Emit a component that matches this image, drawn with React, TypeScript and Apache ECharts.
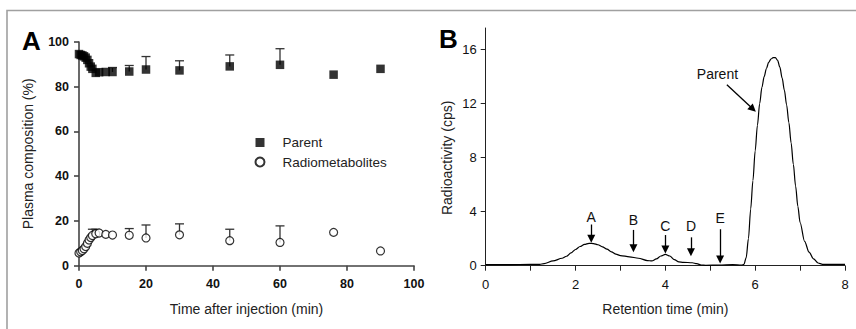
import React, { useEffect, useRef } from "react";
import * as echarts from "echarts";

// Panel A: plasma composition over time
const timesA = [0, 0.5, 1, 1.5, 2, 2.5, 3, 3.5, 4, 5, 6, 8, 10, 15, 20, 30, 45, 60, 76, 90];
const parentPct = [94.6, 94.2, 94, 93.6, 93, 92, 90.5, 89, 88, 86.2, 86.5, 86.6, 86.6, 86.8, 87.7, 87.3, 89.1, 89.8, 85.4, 88];
const metabPct = [5.7, 6.2, 6.8, 7.6, 8.6, 10, 11.5, 12.6, 13.5, 14.3, 14.6, 14, 13.7, 13.6, 12.4, 13.8, 11.2, 10.4, 14.9, 6.6];
// upper error bar ends: [time, mean, upper]
const parentErr = [
  [10, 86.6, 88.6],
  [15, 86.8, 89.5],
  [20, 87.7, 93.5],
  [30, 87.3, 91.6],
  [45, 89.1, 94.2],
  [60, 89.8, 97],
];
const metabErr = [
  [4, 13.5, 16.3],
  [5, 14.3, 16.3],
  [15, 13.6, 16.6],
  [20, 12.4, 18.2],
  [30, 13.8, 18.7],
  [45, 11.2, 16.3],
  [60, 10.4, 17.8],
];
const xTicksA = [0, 20, 40, 60, 80, 100];
const yTicksA = [0, 20, 40, 60, 80, 100];

// Panel B: radio-HPLC chromatogram
const retTime = [0, 0.5, 1.0, 1.2, 1.3, 1.5, 1.7, 1.8, 1.9, 2.0, 2.1, 2.2, 2.3, 2.4, 2.5, 2.6, 2.7, 2.8, 2.9, 3.0, 3.2, 3.4, 3.6, 3.7, 3.8, 3.9, 4.0, 4.1, 4.2, 4.3, 4.4, 4.6, 4.7, 4.8, 4.9, 5.2, 5.5, 5.7, 5.75, 5.8, 5.85, 5.9, 5.95, 6.0, 6.05, 6.1, 6.15, 6.2, 6.25, 6.3, 6.35, 6.4, 6.45, 6.5, 6.55, 6.6, 6.65, 6.7, 6.75, 6.8, 6.85, 6.9, 6.95, 7.0, 7.1, 7.2, 7.3, 7.4, 7.5, 8.0];
const radioCps = [0.08, 0.08, 0.1, 0.1, 0.15, 0.35, 0.55, 0.7, 0.95, 1.2, 1.42, 1.58, 1.66, 1.64, 1.55, 1.4, 1.22, 1.02, 0.85, 0.75, 0.66, 0.55, 0.38, 0.35, 0.5, 0.72, 0.84, 0.72, 0.45, 0.28, 0.25, 0.22, 0.15, 0.05, 0.03, 0.05, 0.08, 0.05, 0.1, 0.6, 2.0, 4.2, 6.3, 8.5, 10.4, 12.0, 13.2, 14.0, 14.6, 15.05, 15.3, 15.4, 15.4, 15.2, 14.7, 13.9, 13.0, 11.9, 10.6, 9.1, 7.5, 5.9, 4.4, 3.2, 1.8, 1.0, 0.5, 0.2, 0.1, 0.1];
const peakLabels = ["A", "B", "C", "D", "E"];
const peakX = [2.35, 3.29, 4.0, 4.57, 5.22];
const peakLabelY = [3.63, 3.39, 2.97, 2.97, 3.51];
const arrowTopY = [3.05, 2.65, 2.27, 2.1, 2.7];
const arrowTipY = [2.0, 1.3, 1.2, 1.0, 0.45];
const parentLabel = { x: 5.16, y: 14.2 };
const parentArrow = { x1: 5.37, y1: 13.4, x2: 5.95, y2: 11.6 };
const xTicksB = [0, 2, 4, 6, 8];
const yTicksB = [0, 4, 8, 12, 16];

const FONT = "Liberation Sans, Arial, sans-serif";

export default function App() {
  const ref = useRef<HTMLDivElement>(null);

  useEffect(() => {
    if (!ref.current) return;
    const chart = echarts.init(ref.current, undefined, { renderer: "svg" });

    const errRender = (params: any, api: any) => {
      const x = api.value(0);
      const m = api.value(1);
      const u = api.value(2);
      const p1 = api.coord([x, m]);
      const p2 = api.coord([x, u]);
      const st = { stroke: "#333", lineWidth: 1.3 };
      return {
        type: "group",
        children: [
          { type: "line", shape: { x1: p1[0], y1: p1[1], x2: p2[0], y2: p2[1] }, style: st },
          { type: "line", shape: { x1: p2[0] - 4.5, y1: p2[1], x2: p2[0] + 4.5, y2: p2[1] }, style: st },
        ],
      };
    };

    const arrowLines = peakX.map((x, i) => [
      { coord: [x, arrowTopY[i]] },
      { coord: [x, arrowTipY[i]] },
    ]);
    arrowLines.push([
      { coord: [parentArrow.x1, parentArrow.y1] },
      { coord: [parentArrow.x2, parentArrow.y2] },
    ]);

    const option: any = {
      animation: false,
      textStyle: { fontFamily: FONT },
      graphic: [
        {
          type: "polyline",
          shape: { points: [[7, 329], [7, 10.5], [856, 10.5]] },
          style: { stroke: "#a0a0a0", lineWidth: 1.6, fill: "none" },
          silent: true,
        },
        {
          type: "text",
          left: 22,
          top: 28,
          style: { text: "A", font: `bold 26px ${FONT}`, fill: "#000" },
        },
        {
          type: "text",
          left: 439,
          top: 26,
          style: { text: "B", font: `bold 26px ${FONT}`, fill: "#000" },
        },
      ],
      legend: {
        left: 254.5,
        top: 135.5,
        orient: "vertical",
        padding: 0,
        itemGap: 5.5,
        itemWidth: 9,
        itemHeight: 9,
        selectedMode: false,
        data: ["Parent", "Radiometabolites"],
        textStyle: { fontSize: 13.5, color: "#222", fontFamily: FONT, padding: [0, 0, 0, 13] },
      },
      grid: [
        { left: 79, top: 42, width: 335, height: 223.7 },
        { left: 485.7, top: 28, width: 359.3, height: 237.7 },
      ],
      xAxis: [
        {
          type: "value",
          gridIndex: 0,
          min: 0,
          max: 100,
          interval: 20,
          name: "Time after injection (min)",
          nameLocation: "middle",
          nameGap: 36,
          nameTextStyle: { fontSize: 14, color: "#222", fontFamily: FONT },
          axisLine: { show: true, lineStyle: { color: "#444", width: 1.6 } },
          axisTick: { show: true, length: 5, customValues: xTicksA, lineStyle: { color: "#444", width: 1.6 } },
          axisLabel: { customValues: xTicksA, fontSize: 12.5, fontWeight: "bold", color: "#111", margin: 12, fontFamily: FONT },
          splitLine: { show: false },
        },
        {
          type: "value",
          gridIndex: 1,
          min: 0,
          max: 8,
          interval: 2,
          name: "Retention time (min)",
          nameLocation: "middle",
          nameGap: 36,
          nameTextStyle: { fontSize: 14, color: "#222", fontFamily: FONT },
          axisLine: { show: true, lineStyle: { color: "#222", width: 1 } },
          axisTick: { show: true, length: 5, customValues: xTicksB, lineStyle: { color: "#222", width: 1 } },
          minorTick: { show: true, splitNumber: 2, length: 5, lineStyle: { color: "#222", width: 1 } },
          axisLabel: { customValues: xTicksB, fontSize: 13, color: "#111", margin: 12, fontFamily: FONT },
          splitLine: { show: false },
        },
      ],
      yAxis: [
        {
          type: "value",
          gridIndex: 0,
          min: 0,
          max: 100,
          interval: 20,
          name: "Plasma composition (%)",
          nameLocation: "middle",
          nameGap: 44,
          nameTextStyle: { fontSize: 14, color: "#222", fontFamily: FONT },
          axisLine: { show: true, lineStyle: { color: "#444", width: 1.6 } },
          axisTick: { show: true, length: 5, customValues: yTicksA, lineStyle: { color: "#444", width: 1.6 } },
          axisLabel: { customValues: yTicksA, fontSize: 12.5, fontWeight: "bold", color: "#111", margin: 10, fontFamily: FONT },
          splitLine: { show: false },
        },
        {
          type: "value",
          gridIndex: 1,
          min: 0,
          max: 17.6,
          name: "Radioactivity (cps)",
          nameLocation: "middle",
          nameGap: 32,
          nameTextStyle: { fontSize: 14, color: "#222", fontFamily: FONT, padding: [0, 22, 0, 0] },
          axisLine: { show: true, lineStyle: { color: "#222", width: 1 } },
          axisTick: { show: true, length: 5, customValues: yTicksB, lineStyle: { color: "#222", width: 1 } },
          axisLabel: { customValues: yTicksB, fontSize: 13, color: "#111", margin: 9, fontFamily: FONT },
          splitLine: { show: false },
        },
      ],
      series: [
        {
          type: "custom",
          name: "parentErr",
          xAxisIndex: 0,
          yAxisIndex: 0,
          renderItem: errRender,
          encode: { x: 0, y: [1, 2] },
          data: parentErr,
          silent: true,
          z: 1,
        },
        {
          type: "custom",
          name: "metabErr",
          xAxisIndex: 0,
          yAxisIndex: 0,
          renderItem: errRender,
          encode: { x: 0, y: [1, 2] },
          data: metabErr,
          silent: true,
          z: 1,
        },
        {
          type: "scatter",
          name: "Parent",
          xAxisIndex: 0,
          yAxisIndex: 0,
          symbol: "rect",
          symbolSize: 8.5,
          clip: false,
          itemStyle: { color: "#000" },
          data: timesA.map((t, i) => [t, parentPct[i]]),
          z: 3,
        },
        {
          type: "scatter",
          name: "Radiometabolites",
          xAxisIndex: 0,
          yAxisIndex: 0,
          symbol: "circle",
          symbolSize: 8,
          clip: false,
          itemStyle: { color: "#fff", borderColor: "#000", borderWidth: 1.2 },
          data: timesA.map((t, i) => [t, metabPct[i]]),
          z: 3,
        },
        {
          type: "line",
          name: "chromatogram",
          xAxisIndex: 1,
          yAxisIndex: 1,
          showSymbol: false,
          symbol: "none",
          smooth: 0.3,
          smoothMonotone: "x",
          lineStyle: { color: "#000", width: 1.2 },
          data: retTime.map((t, i) => [t, radioCps[i]]),
          markLine: {
            silent: true,
            symbol: ["none", "triangle"],
            symbolSize: 8,
            label: { show: false },
            lineStyle: { color: "#000", width: 1.3, type: "solid" },
            emphasis: { disabled: true },
            data: arrowLines,
          },
          markPoint: {
            silent: true,
            symbol: "circle",
            symbolSize: 0,
            label: {
              show: true,
              position: "inside",
              formatter: (p: any) => p.name,
              fontSize: 14,
              color: "#111",
              fontFamily: FONT,
            },
            data: [
              ...peakLabels.map((n, i) => ({ name: n, coord: [peakX[i], peakLabelY[i]] })),
              { name: "Parent", coord: [parentLabel.x, parentLabel.y] },
            ],
          },
        },
      ],
    };

    chart.setOption(option);
    return () => chart.dispose();
  }, []);

  return (
    <div
      ref={ref}
      style={{ position: "fixed", left: 0, top: 0, width: 856, height: 329, background: "#fff" }}
    />
  );
}
